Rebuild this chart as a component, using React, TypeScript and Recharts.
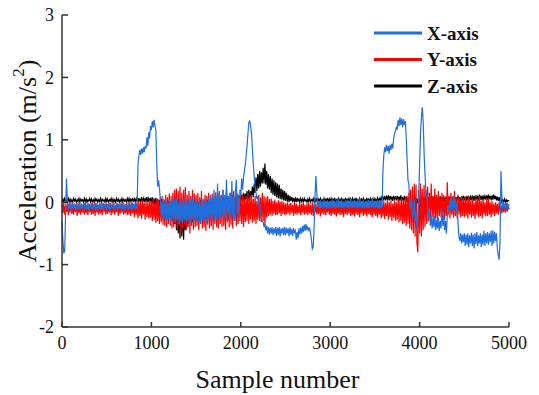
import { LineChart, Line, XAxis, YAxis, Legend } from 'recharts';

// one reading every 10 samples, 20 rows of 250 samples + the last point
const SAMPLE_STEP = 10;

const xAxisValues = [
  -0.3, -0.6, -0.82, -0.78, -0.2, 0.38, 0.02, -0.12, -0.02, -0.11, -0.04, -0.12, -0.01, -0.1, -0.03, -0.13, -0.02, -0.11, -0.05, -0.12, -0.01, -0.1, -0.03, -0.12, -0.04,
  -0.02, -0.12, -0.04, -0.11, -0.01, -0.13, -0.03, -0.1, -0.02, -0.12, -0.05, -0.11, -0.01, -0.13, -0.03, -0.1, -0.04, -0.12, -0.02, -0.11, -0.01, -0.13, -0.04, -0.1, -0.02,
  -0.12, -0.03, -0.11, -0.01, -0.13, -0.04, -0.1, -0.02, -0.12, -0.05, -0.11, -0.01, -0.13, -0.03, -0.1, -0.02, -0.12, -0.04, -0.11, -0.01, -0.13, -0.03, -0.1, -0.05, -0.12,
  -0.02, -0.11, -0.04, -0.13, -0.01, -0.1, -0.03, -0.12, -0.02, -0.11, 0.6, 0.74, 0.84, 0.76, 0.86, 0.78, 0.88, 0.8, 0.9, 0.86, 1.04, 0.9, 1.12, 1.02, 1.22,
  1.16, 1.3, 1.2, 1.32, 1.22, 1.15, 0.6, 0.25, 0.35, 0.22, 0.05, -0.22, 0.02, -0.28, 0.04, -0.25, 0.06, -0.3, 0.0, -0.27, 0.05, -0.3, 0.02, -0.28, 0.06,
  -0.3, 0.04, -0.33, 0.06, -0.28, 0.0, -0.35, 0.07, -0.3, 0.02, -0.34, 0.05, -0.29, 0.08, -0.32, 0.01, -0.3, 0.06, -0.35, 0.03, -0.28, 0.07, -0.33, 0.0, -0.3,
  0.05, -0.32, 0.02, -0.3, 0.06, -0.34, 0.0, -0.28, 0.04, -0.31, 0.07, -0.33, 0.02, -0.3, 0.05, -0.27, 0.12, -0.32, 0.08, -0.25, 0.2, -0.3, 0.1, -0.28, 0.3,
  -0.25, 0.15, -0.28, 0.1, -0.22, 0.2, -0.3, 0.12, -0.25, 0.36, -0.2, 0.1, -0.28, 0.15, -0.22, 0.34, -0.25, 0.08, -0.3, 0.18, 0.36, -0.2, 0.12, -0.25, 0.2,
  0.1, 0.38, 0.2, 0.4, 0.5, 0.6, 0.75, 0.9, 1.1, 1.28, 1.3, 1.22, 1.1, 0.85, 0.6, 0.4, 0.25, 0.15, 0.05, 0.1, -0.05, 0.0, -0.15, -0.25, -0.3,
  -0.32, -0.4, -0.35, -0.45, -0.38, -0.5, -0.4, -0.52, -0.41, -0.5, -0.4, -0.53, -0.42, -0.5, -0.4, -0.54, -0.41, -0.52, -0.4, -0.55, -0.42, -0.5, -0.41, -0.53, -0.4,
  -0.53, -0.41, -0.5, -0.42, -0.55, -0.4, -0.52, -0.43, -0.54, -0.41, -0.5, -0.44, -0.6, -0.48, -0.58, -0.42, -0.52, -0.41, -0.5, -0.38, -0.48, -0.36, -0.46, -0.35, -0.45,
  -0.4, -0.45, -0.42, -0.5, -0.6, -0.75, -0.72, -0.4, 0.1, 0.42, 0.15, -0.08, 0.02, -0.1, 0.03, -0.09, 0.01, -0.1, 0.04, -0.08, 0.02, -0.1, 0.03, -0.09, 0.01,
  -0.1, 0.03, -0.09, 0.04, -0.08, 0.01, -0.1, 0.03, -0.09, 0.05, -0.08, 0.02, -0.1, 0.04, -0.09, 0.01, -0.08, 0.03, -0.1, 0.04, -0.09, 0.02, -0.08, 0.05, -0.1,
  0.02, -0.09, 0.04, -0.08, 0.01, -0.1, 0.03, -0.09, 0.05, -0.08, 0.02, -0.1, 0.04, -0.09, 0.01, -0.08, 0.03, -0.1, 0.04, -0.09, 0.02, -0.08, 0.05, -0.1, 0.03,
  -0.09, 0.02, -0.08, 0.04, -0.1, 0.01, -0.09, 0.03, -0.08, 0.5, 0.76, 0.88, 0.8, 0.92, 0.82, 0.9, 0.78, 0.92, 0.84, 0.94, 0.86, 1.02, 1.1, 1.14, 1.2,
  1.16, 1.32, 1.22, 1.36, 1.24, 1.34, 1.2, 1.33, 1.24, 1.3, 1.05, 0.7, 0.35, 0.3, 0.0, -0.1, 0.1, -0.25, -0.2, 0.05, -0.3, -0.15, -0.45, -0.2, 0.1,
  0.6, 1.1, 1.35, 1.52, 1.3, 0.8, 0.45, 0.2, 0.1, -0.05, -0.25, -0.1, -0.38, -0.2, -0.42, -0.25, -0.4, -0.22, -0.45, -0.28, -0.42, -0.25, -0.46, -0.3, -0.42,
  -0.1, -0.38, -0.2, -0.45, -0.3, -0.5, -0.2, -0.05, -0.15, 0.05, -0.12, 0.08, -0.15, 0.1, -0.1, 0.05, -0.18, 0.0, -0.35, -0.55, -0.62, -0.5, -0.66, -0.52, -0.64,
  -0.5, -0.7, -0.52, -0.68, -0.5, -0.72, -0.53, -0.66, -0.49, -0.7, -0.52, -0.74, -0.5, -0.67, -0.48, -0.7, -0.53, -0.66, -0.5, -0.72, -0.52, -0.68, -0.46, -0.7, -0.5,
  -0.66, -0.48, -0.68, -0.5, -0.64, -0.46, -0.7, -0.45, -0.66, -0.48, -0.62, -0.5, -0.75, -0.85, -0.92, -0.6, 0.5, 0.1, -0.1, 0.0, -0.1, -0.02, -0.11, -0.01, -0.1,
  -0.03,
];

const yAxisValues = [
  -0.03, -0.18, -0.01, -0.2, -0.05, -0.16, -0.02, -0.21, -0.04, -0.17, 0.0, -0.19, -0.06, -0.2, -0.02, -0.16, -0.03, -0.22, -0.01, -0.18, -0.05, -0.2, -0.02, -0.17, -0.04,
  -0.2, -0.01, -0.18, -0.04, -0.21, -0.02, -0.16, -0.05, -0.2, 0.0, -0.19, -0.03, -0.22, -0.01, -0.17, -0.04, -0.2, -0.02, -0.18, -0.06, -0.21, -0.01, -0.16, -0.03, -0.2,
  -0.02, -0.19, -0.04, -0.17, -0.01, -0.21, -0.03, -0.18, 0.0, -0.2, -0.05, -0.16, -0.02, -0.22, -0.04, -0.19, -0.01, -0.17, -0.03, -0.2, -0.06, -0.18, -0.02, -0.21, -0.01,
  -0.2, -0.02, -0.22, 0.0, -0.18, -0.03, -0.24, 0.01, -0.2, -0.02, -0.26, 0.02, -0.22, 0.0, -0.27, 0.03, -0.2, -0.01, -0.28, 0.02, -0.24, 0.0, -0.26, 0.03, -0.25,
  0.02, -0.3, 0.05, -0.28, 0.0, -0.33, 0.06, -0.3, 0.03, -0.35, 0.08, -0.32, 0.1, -0.36, 0.05, -0.38, 0.12, -0.4, 0.08, -0.35, 0.14, -0.38, 0.1, -0.42, 0.15,
  -0.4, 0.2, -0.35, 0.22, -0.45, 0.18, -0.38, 0.25, -0.48, 0.15, -0.42, 0.2, -0.36, 0.24, -0.45, 0.12, -0.4, 0.18, -0.5, 0.1, -0.38, 0.2, -0.44, 0.14, -0.4,
  0.12, -0.38, 0.15, -0.45, 0.08, -0.35, 0.18, -0.42, 0.05, -0.4, 0.12, -0.46, 0.1, -0.36, 0.15, -0.42, 0.06, -0.38, 0.14, -0.44, 0.08, -0.35, 0.16, -0.4, 0.1,
  -0.42, 0.18, -0.35, 0.12, -0.4, 0.2, -0.38, 0.1, -0.45, 0.22, -0.32, 0.08, -0.4, 0.15, -0.36, 0.12, -0.42, 0.18, -0.3, 0.1, -0.38, 0.14, -0.35, 0.08, -0.3,
  0.1, -0.35, 0.12, -0.4, 0.05, -0.32, 0.1, -0.3, 0.15, -0.35, 0.08, -0.28, 0.12, -0.33, 0.05, -0.3, 0.1, -0.35, 0.02, -0.28, 0.12, -0.3, 0.08, -0.32, 0.15,
  -0.3, 0.1, -0.37, 0.08, -0.25, 0.1, -0.22, 0.05, -0.2, 0.06, -0.22, 0.02, -0.19, 0.04, -0.21, 0.0, -0.2, 0.03, -0.18, 0.01, -0.22, 0.02, -0.19, 0.0, -0.2,
  -0.02, -0.2, 0.0, -0.18, -0.03, -0.21, -0.01, -0.17, -0.04, -0.22, 0.0, -0.19, -0.02, -0.2, -0.05, -0.18, -0.01, -0.21, -0.03, -0.17, 0.0, -0.2, -0.04, -0.19, -0.02,
  -0.21, -0.01, -0.18, -0.04, -0.2, 0.0, -0.22, -0.03, -0.17, -0.02, -0.2, -0.05, -0.19, -0.01, -0.23, -0.03, -0.18, 0.0, -0.2, -0.04, -0.21, -0.02, -0.17, -0.01, -0.2,
  -0.03, -0.22, -0.01, -0.19, -0.04, -0.2, 0.0, -0.23, -0.02, -0.18, -0.05, -0.21, -0.01, -0.2, -0.03, -0.24, 0.0, -0.19, -0.02, -0.21, -0.04, -0.18, -0.01, -0.22, -0.03,
  -0.2, -0.02, -0.23, 0.0, -0.19, -0.04, -0.21, -0.01, -0.24, -0.03, -0.18, -0.02, -0.22, 0.0, -0.2, -0.05, -0.23, -0.01, -0.19, -0.03, -0.21, 0.0, -0.24, -0.02, -0.2,
  -0.02, -0.22, 0.0, -0.25, -0.03, -0.2, 0.01, -0.26, -0.02, -0.23, 0.02, -0.27, -0.01, -0.22, 0.03, -0.28, 0.0, -0.24, 0.02, -0.3, -0.02, -0.25, 0.03, -0.3, 0.0,
  -0.28, 0.05, -0.32, 0.02, -0.3, 0.06, -0.35, 0.04, -0.33, 0.08, -0.38, 0.1, -0.35, 0.15, -0.42, 0.2, -0.45, 0.25, -0.5, 0.3, -0.55, 0.28, -0.65, -0.8, 0.2,
  -0.5, 0.3, -0.55, 0.22, -0.45, 0.28, -0.4, 0.2, -0.35, 0.25, -0.3, 0.15, -0.28, 0.3, -0.25, 0.1, -0.3, 0.22, -0.26, 0.12, -0.28, 0.18, -0.22, 0.1, -0.25,
  0.15, -0.25, 0.12, -0.28, 0.08, -0.22, 0.32, -0.2, 0.1, -0.26, 0.15, -0.2, 0.05, -0.25, 0.18, -0.22, 0.08, -0.26, 0.12, -0.2, 0.05, -0.24, 0.1, -0.22, 0.06,
  -0.24, 0.08, -0.22, 0.05, -0.26, 0.1, -0.2, 0.02, -0.25, 0.06, -0.22, 0.0, -0.27, 0.08, -0.2, 0.04, -0.24, 0.1, -0.22, 0.02, -0.26, 0.05, -0.2, 0.0, -0.23,
  0.04, -0.22, 0.06, -0.2, 0.0, -0.24, 0.02, -0.2, -0.02, -0.22, 0.0, -0.18, -0.03, -0.2, 0.0, -0.16, -0.04, -0.18, -0.02, -0.16, -0.03, -0.17, -0.01, -0.15, -0.04,
  -0.12,
];

const zAxisValues = [
  0.0, 0.05, 0.01, 0.06, 0.0, 0.04, 0.02, 0.06, 0.0, 0.05, 0.01, 0.04, 0.0, 0.06, 0.02, 0.05, 0.0, 0.04, 0.01, 0.06, 0.0, 0.05, 0.02, 0.04, 0.0,
  0.06, 0.01, 0.05, 0.0, 0.04, 0.02, 0.06, 0.0, 0.05, 0.01, 0.04, 0.0, 0.06, 0.02, 0.05, 0.0, 0.04, 0.01, 0.06, 0.0, 0.05, 0.02, 0.04, 0.0, 0.06,
  0.01, 0.05, 0.0, 0.04, 0.02, 0.06, 0.0, 0.05, 0.01, 0.04, 0.0, 0.06, 0.02, 0.05, 0.0, 0.04, 0.01, 0.06, 0.0, 0.05, 0.02, 0.04, 0.0, 0.06, 0.01,
  0.06, 0.0, 0.05, 0.02, 0.07, 0.0, 0.05, 0.01, 0.06, 0.0, 0.07, 0.02, 0.05, 0.0, 0.08, 0.01, 0.06, 0.0, 0.07, 0.02, 0.08, 0.0, 0.06, 0.01, 0.07,
  -0.02, 0.08, -0.04, 0.06, -0.05, 0.07, -0.08, 0.05, -0.1, 0.04, -0.12, 0.05, -0.15, 0.02, -0.18, 0.03, -0.2, 0.0, -0.22, 0.02, -0.25, 0.0, -0.28, -0.02, -0.3,
  -0.05, -0.35, -0.08, -0.45, -0.1, -0.5, -0.12, -0.58, -0.15, -0.55, -0.1, -0.6, -0.08, -0.45, -0.05, -0.4, -0.02, -0.35, -0.05, -0.3, 0.0, -0.32, -0.02, -0.28, 0.0,
  -0.28, 0.02, -0.25, 0.0, -0.3, 0.03, -0.22, -0.02, -0.26, 0.02, -0.24, 0.0, -0.28, 0.04, -0.2, 0.0, -0.25, 0.02, -0.22, 0.05, -0.24, 0.0, -0.2, 0.03, -0.22,
  0.04, -0.2, 0.06, -0.22, 0.02, -0.18, 0.08, -0.25, 0.05, -0.2, 0.1, -0.26, 0.04, -0.15, 0.08, -0.18, 0.1, -0.12, 0.06, -0.15, 0.1, -0.1, 0.12, -0.05, 0.1,
  0.0, 0.12, 0.02, 0.15, 0.0, 0.14, 0.04, 0.18, 0.02, 0.2, 0.05, 0.18, 0.1, 0.25, 0.08, 0.3, 0.15, 0.4, 0.18, 0.45, 0.22, 0.5, 0.25, 0.48, 0.3,
  0.55, 0.3, 0.62, 0.28, 0.5, 0.22, 0.45, 0.2, 0.42, 0.15, 0.38, 0.12, 0.35, 0.1, 0.32, 0.08, 0.3, 0.06, 0.28, 0.05, 0.22, 0.04, 0.2, 0.03, 0.18,
  0.02, 0.15, 0.01, 0.12, 0.0, 0.1, 0.02, 0.08, 0.0, 0.07, 0.01, 0.06, 0.0, 0.07, 0.02, 0.05, 0.0, 0.06, 0.01, 0.05, 0.0, 0.06, 0.02, 0.04, 0.0,
  0.05, 0.01, 0.06, 0.0, 0.04, 0.02, 0.06, 0.0, 0.05, 0.01, 0.07, 0.0, 0.05, 0.02, 0.06, 0.0, 0.04, 0.01, 0.06, 0.0, 0.05, 0.02, 0.07, 0.0, 0.05,
  0.01, 0.06, 0.0, 0.05, 0.02, 0.07, 0.0, 0.04, 0.01, 0.06, 0.0, 0.05, 0.02, 0.06, 0.0, 0.04, 0.01, 0.07, 0.0, 0.05, 0.02, 0.06, 0.0, 0.05, 0.01,
  0.06, 0.0, 0.05, 0.02, 0.07, 0.0, 0.04, 0.01, 0.06, 0.0, 0.05, 0.02, 0.06, 0.0, 0.04, 0.01, 0.07, 0.0, 0.05, 0.02, 0.06, 0.0, 0.05, 0.01, 0.06,
  0.0, 0.05, 0.02, 0.07, 0.01, 0.06, 0.03, 0.08, 0.02, 0.09, 0.04, 0.1, 0.03, 0.09, 0.05, 0.11, 0.03, 0.1, 0.04, 0.09, 0.02, 0.1, 0.05, 0.08, 0.03,
  0.1, 0.04, 0.09, 0.02, 0.11, 0.03, 0.08, 0.01, 0.1, 0.02, 0.09, 0.0, 0.08, -0.03, 0.07, -0.06, 0.08, -0.1, 0.06, -0.05, 0.08, -0.08, 0.06, -0.02, 0.07,
  -0.04, 0.08, 0.0, 0.07, -0.02, 0.08, 0.01, 0.07, 0.0, 0.08, 0.02, 0.06, 0.01, 0.08, 0.02, 0.09, 0.01, 0.07, 0.02, 0.08, 0.01, 0.07, 0.02, 0.09, 0.01,
  0.08, 0.02, 0.09, 0.01, 0.07, 0.03, 0.09, 0.02, 0.08, 0.01, 0.09, 0.03, 0.07, 0.02, 0.09, 0.01, 0.08, 0.03, 0.1, 0.02, 0.08, 0.01, 0.09, 0.03, 0.1,
  0.03, 0.09, 0.02, 0.1, 0.04, 0.08, 0.02, 0.11, 0.03, 0.09, 0.04, 0.1, 0.02, 0.11, 0.04, 0.09, 0.03, 0.12, 0.04, 0.1, 0.03, 0.11, 0.05, 0.1, 0.04,
  0.11, 0.04, 0.12, 0.05, 0.1, 0.03, 0.11, 0.04, 0.12, 0.05, 0.1, 0.03, 0.09, 0.02, 0.08, 0.01, 0.05, 0.0, 0.04, 0.01, 0.05, 0.0, 0.04, 0.01, 0.03,
  0.02,
];

const xTicks = [0, 1000, 2000, 3000, 4000, 5000];
const yTicks = [-2, -1, 0, 1, 2, 3];

const series = [
  { key: 'x', name: 'X-axis', color: '#1f6fdc' },
  { key: 'y', name: 'Y-axis', color: '#ff0000' },
  { key: 'z', name: 'Z-axis', color: '#000000' },
];

const FONT = '"Liberation Serif", "Times New Roman", serif';
const AXIS = '#333';

const chartData = xAxisValues.map((v, i) => ({
  sample: i * SAMPLE_STEP,
  x: v,
  y: yAxisValues[i],
  z: zAxisValues[i],
}));

const BottomTick = ({ x, y, payload }: any) => (
  <text x={x} y={y} dy="0.71em" textAnchor="middle" fontFamily={FONT} fontSize={18} fill="#111">
    {payload.value}
  </text>
);

const LeftTick = ({ x, y, payload }: any) => (
  <text x={x} y={y} dy="0.355em" textAnchor="end" fontFamily={FONT} fontSize={18} fill="#111">
    {payload.value}
  </text>
);

const XLabel = ({ viewBox }: any) => (
  <text
    x={viewBox.x + viewBox.width / 2 - 8}
    y={388}
    textAnchor="middle"
    fontFamily={FONT}
    fontSize={26}
    fill="#111"
  >
    Sample number
  </text>
);

const YLabel = ({ viewBox }: any) => {
  const cx = 27;
  const cy = viewBox.y + viewBox.height / 2 - 10;
  return (
    <text
      x={cx}
      y={cy}
      transform={`rotate(-90, ${cx}, ${cy})`}
      textAnchor="middle"
      dominantBaseline="central"
      fontFamily={FONT}
      fontSize={26}
      fill="#111"
    >
      Acceleration (m/s
      <tspan dy={-9} fontSize={17}>2</tspan>
      <tspan dy={9}>)</tspan>
    </text>
  );
};

const LegendBox = () => (
  <svg width={160} height={80}>
    {series.map((s, i) => (
      <g key={s.key}>
        <line x1={4} x2={52} y1={13 + i * 26.5} y2={13 + i * 26.5} stroke={s.color} strokeWidth={3} />
        <text x={57} y={19.5 + i * 26.5} fontFamily={FONT} fontSize={19} fontWeight="bold" fill="#111">
          {s.name}
        </text>
      </g>
    ))}
  </svg>
);

export default function App() {
  return (
    <div style={{ position: 'absolute', left: 0, top: 0, width: 539, height: 395, background: '#fff' }}>
      <LineChart width={539} height={395} data={chartData} margin={{ top: 15, right: 30, bottom: 0, left: 0 }}>
        <XAxis
          dataKey="sample"
          type="number"
          domain={[0, 5000]}
          ticks={xTicks}
          interval={0}
          height={68}
          tickSize={-5}
          tickMargin={14}
          axisLine={{ stroke: AXIS, strokeWidth: 1.5 }}
          tickLine={{ stroke: AXIS, strokeWidth: 1.5 }}
          tick={<BottomTick />}
          label={<XLabel />}
        />
        <XAxis
          xAxisId="top"
          orientation="top"
          dataKey="sample"
          type="number"
          domain={[0, 5000]}
          height={0}
          tick={false}
          tickLine={false}
          axisLine={{ stroke: AXIS, strokeWidth: 1.5 }}
        />
        <YAxis
          type="number"
          domain={[-2, 3]}
          ticks={yTicks}
          interval={0}
          width={62}
          tickSize={-6}
          tickMargin={14}
          axisLine={{ stroke: AXIS, strokeWidth: 1.5 }}
          tickLine={{ stroke: AXIS, strokeWidth: 1.5 }}
          tick={<LeftTick />}
          label={<YLabel />}
        />
        <YAxis
          yAxisId="right"
          orientation="right"
          type="number"
          domain={[-2, 3]}
          width={0}
          tick={false}
          tickLine={false}
          axisLine={{ stroke: AXIS, strokeWidth: 1.5 }}
        />
        <Legend
          layout="horizontal"
          verticalAlign="middle"
          align="center"
          wrapperStyle={{ left: 370, top: 20, width: 160, height: 80 }}
          content={() => <LegendBox />}
        />
        {/* drawn back to front: Z, Y, then X on top */}
        {[...series].reverse().map((s) => (
          <Line
            key={s.key}
            type="linear"
            dataKey={s.key}
            name={s.name}
            stroke={s.color}
            strokeWidth={1.2}
            dot={false}
            isAnimationActive={false}
          />
        ))}
      </LineChart>
    </div>
  );
}
